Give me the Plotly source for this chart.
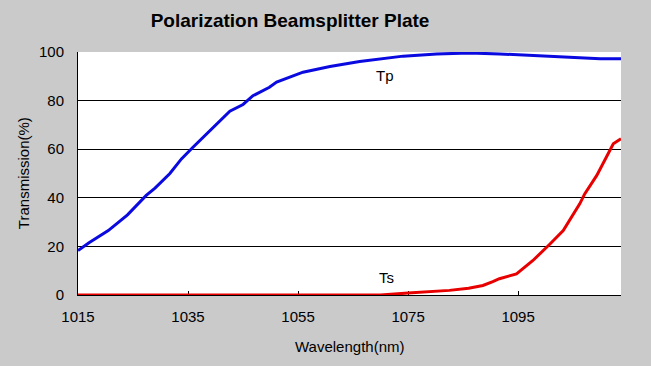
import plotly.graph_objects as go

tp_wavelength = [1015, 1017, 1020.5, 1024, 1027.4, 1029, 1031.7, 1033.8, 1035.9, 1039.5,
                 1042.6, 1045, 1046.8, 1049.8, 1051.1, 1055.9, 1060.8, 1066.2, 1074.1,
                 1080.2, 1086.2, 1091.6, 1097.7, 1101.4, 1105.6, 1109.9, 1113.7]
tp_values = [18.3, 21.5, 26.5, 33, 41, 44, 50, 56, 60.8, 68.8,
             75.6, 78.4, 82, 85.5, 87.6, 91.7, 94, 96.1, 98.3,
             99.2, 99.6, 99.2, 98.5, 98.1, 97.6, 97.2, 97.2]

ts_wavelength = [1015, 1030, 1050, 1070, 1075, 1082.5, 1086, 1088.6, 1090.4, 1091.6,
                 1094.7, 1097.7, 1100.7, 1103.2, 1106.2, 1107.1, 1109.3, 1112.3, 1113.7]
ts_values = [0, 0, 0, 0, 0.8, 1.9, 2.8, 3.9, 5.5, 6.7,
             8.7, 14.2, 20.8, 26.5, 37.5, 41.6, 49.2, 62.2, 64.3]

x_ticks = [1015, 1035, 1055, 1075, 1095]
y_ticks = [0, 20, 40, 60, 80, 100]

FONT = "Arial, Liberation Sans, sans-serif"

fig = go.Figure()
fig.add_trace(go.Scatter(x=ts_wavelength, y=ts_values, mode="lines", name="Ts",
                         line=dict(color="#e80000", width=3)))
fig.add_trace(go.Scatter(x=tp_wavelength, y=tp_values, mode="lines", name="Tp",
                         line=dict(color="#0a0ae0", width=3)))

fig.add_annotation(x=1070.8, y=90.3, text="Tp", showarrow=False,
                   xanchor="center", yanchor="middle",
                   font=dict(family=FONT, size=15, color="black"))
fig.add_annotation(x=1071, y=7.0, text="Ts", showarrow=False,
                   xanchor="center", yanchor="middle",
                   font=dict(family=FONT, size=15, color="black"))

# axis titles
fig.add_annotation(xref="paper", yref="paper", x=0.5, y=(294.5 - 346) / 243,
                   text="Wavelength(nm)", showarrow=False,
                   xanchor="center", yanchor="middle",
                   font=dict(family=FONT, size=15, color="black"))
fig.add_annotation(xref="paper", yref="paper", x=(24 - 78.3) / 542.4, y=(294.5 - 173) / 243,
                   text="Transmission(%)", showarrow=False, textangle=-90,
                   xanchor="center", yanchor="middle",
                   font=dict(family=FONT, size=15, color="black"))

fig.update_layout(
    width=651, height=366,
    margin=dict(l=78, r=30, t=52, b=71),
    paper_bgcolor="#cacaca",
    plot_bgcolor="white",
    showlegend=False,
    title=dict(text="<b>Polarization Beamsplitter Plate</b>", xref="container", yref="container",
               x=290 / 651, y=1 - 20 / 366, xanchor="center", yanchor="middle",
               font=dict(family=FONT, size=19, color="black")),
    font=dict(family=FONT, size=15, color="black"),
)
fig.update_xaxes(range=[1015, 1113.7], tickvals=x_ticks, ticks="inside", ticklen=4,
                 tickcolor="black", showgrid=False, showline=True, linecolor="black",
                 linewidth=1, zeroline=False, layer="below traces",
                 ticklabelstandoff=8, tickfont=dict(family=FONT, size=15, color="black"))
fig.update_yaxes(range=[0, 100], tickvals=y_ticks, showgrid=True, gridcolor="black",
                 gridwidth=1, showline=True, linecolor="black", linewidth=1,
                 zeroline=False, ticks="", layer="below traces",
                 ticklabelstandoff=10, tickfont=dict(family=FONT, size=15, color="black"))

fig.write_html("out.html", config={"displayModeBar": False},
               post_script="document.body.style.margin='0';document.body.style.overflow='hidden';")
